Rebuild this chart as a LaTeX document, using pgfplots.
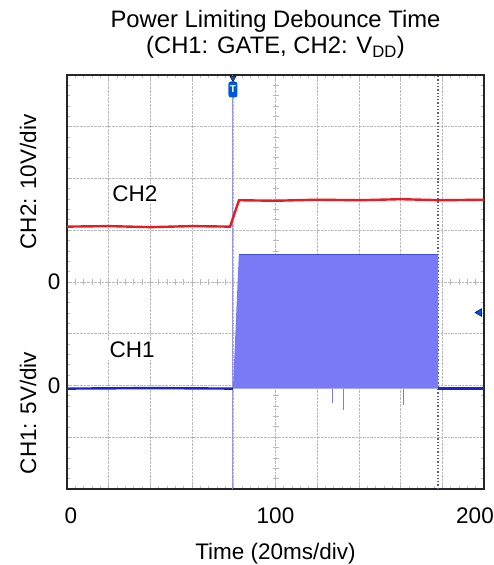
\documentclass[border=0pt]{standalone}
\usepackage{pgfplots}
\pgfplotsset{compat=1.18}
\usepackage{fontspec}
\setmainfont{Liberation Sans}
\definecolor{ch2red}{RGB}{232,28,36}
\definecolor{ch1blue}{RGB}{28,38,196}
\definecolor{ch1fill}{RGB}{122,122,246}
\definecolor{trig}{RGB}{150,150,225}
\definecolor{gridc}{RGB}{185,185,185}
\newcommand{\bigfont}{\fontsize{22.5bp}{26bp}\selectfont}
\begin{document}
\begin{tikzpicture}
% centre crosshair with its division ticks
\begin{axis}[
  scale only axis,
  width=417bp, height=414bp,
  xmin=-100, xmax=100, ymin=-4, ymax=4,
  axis lines=middle,
  axis line style={draw=none},
  xtick={-100,-96,...,100},
  ytick={-4,-3.8,...,4},
  xticklabels={}, yticklabels={},
  tick style={gridc, line width=0.8bp},
  major tick length=6bp,
]
\end{axis}
\begin{axis}[
  scale only axis,
  width=417bp, height=414bp,
  xmin=0, xmax=200, ymin=-4, ymax=4,
  xtick={0,20,...,200},
  xticklabels={{\hspace{8bp}0},,,,,100,,,,,{\hspace{-18bp}200}},
  ytick={-4,-3,...,4},
  yticklabels={,,0,,0,,,,},
  minor x tick num=4, minor y tick num=4,
  tick align=inside, tick pos=both,
  major tick length=4bp, minor tick length=3bp,
  tick style={gridc, line width=0.8bp},
  grid=major,
  grid style={gridc, densely dotted, line width=0.8bp},
  axis line style={black!85, line width=1.6bp},
  ticklabel style={font=\bigfont},
  xticklabel style={yshift=-15bp},
  yticklabel style={xshift=-3bp},
  xlabel={Time (20ms/div)},
  xlabel style={font=\bigfont, yshift=-13bp},
  title={Power Limiting Debounce Time\\(CH1: GATE, CH2: V\textsubscript{DD})},
  title style={align=center, font=\fontsize{23.8bp}{26bp}\selectfont, yshift=7bp},
]
% trigger and cursor lines
\addplot[trig, line width=1bp] coordinates {(79.6,-4) (79.6,4)};
\addplot[gray!70!blue, dotted, line width=1.3bp] coordinates {(178,-4) (178,4)};

% CH1 gate switching (filled envelope)
\addplot[fill=ch1fill, draw=none] coordinates {(79.6,-2.06) (82.4,0.53) (178,0.53) (178,-2.06)};
\addplot[ch1blue!55!ch1fill, line width=1.2bp] coordinates {(82.4,0.53) (178,0.53)};
\addplot[ch1fill, line width=1bp] coordinates {(127.1,-2.06) (127.1,-2.34)};
\addplot[ch1fill, line width=1bp] coordinates {(132.4,-2.06) (132.4,-2.47)};
\addplot[ch1fill, line width=1bp] coordinates {(161.2,-2.06) (161.2,-2.38)};
\addplot[ch1blue, line width=2.4bp] coordinates {(0,-2.06) (40,-2.05) (79.6,-2.06)};
\addplot[ch1blue, line width=2.4bp] coordinates {(178,-2.06) (200,-2.06)};

% CH2 VDD
\addplot[ch2red, line width=2.4bp] coordinates {
  (0,1.07) (20,1.08) (40,1.06) (60,1.08) (78.2,1.07) (82.5,1.58)
  (100,1.57) (120,1.59) (140,1.58) (160,1.60) (180,1.58) (200,1.59)};

% trigger markers
\addplot[only marks, mark=triangle*, mark size=3.5bp,
  mark options={rotate=180, fill=blue!60!cyan!85!black, draw=none}]
  coordinates {(79.6,3.94)};
\addplot[draw=none, point meta=explicit symbolic, nodes near coords,
  every node near coord/.append style={anchor=center, fill=blue!60!cyan!85!black,
    text=white, rounded corners=2.5bp, inner sep=0.5bp, minimum width=9bp,
    minimum height=16bp, font=\bfseries\fontsize{10bp}{10bp}\selectfont}]
  coordinates {(79.6,3.72)[T]};
\addplot[only marks, mark=triangle*, mark size=4.5bp,
  mark options={rotate=90, fill=blue!70!cyan, draw=none}]
  coordinates {(197.8,-0.59)};

\node[fill=white, inner sep=2bp, font=\bigfont] at (axis cs:32.6,1.70) {CH2};
\node[fill=white, inner sep=2bp, font=\bigfont] at (axis cs:31.2,-1.31) {CH1};
\end{axis}
\node[rotate=90, font=\bigfont] at ([xshift=-39bp, yshift=307bp]current axis.south west) {CH2: 10V/div};
\node[rotate=90, font=\bigfont] at ([xshift=-39bp, yshift=76bp]current axis.south west) {CH1: 5V/div};
\pgfresetboundingbox
\path[use as bounding box] ([xshift=-67bp, yshift=-76bp]current axis.south west) rectangle ++(494bp,565bp);
\end{tikzpicture}
\end{document}
